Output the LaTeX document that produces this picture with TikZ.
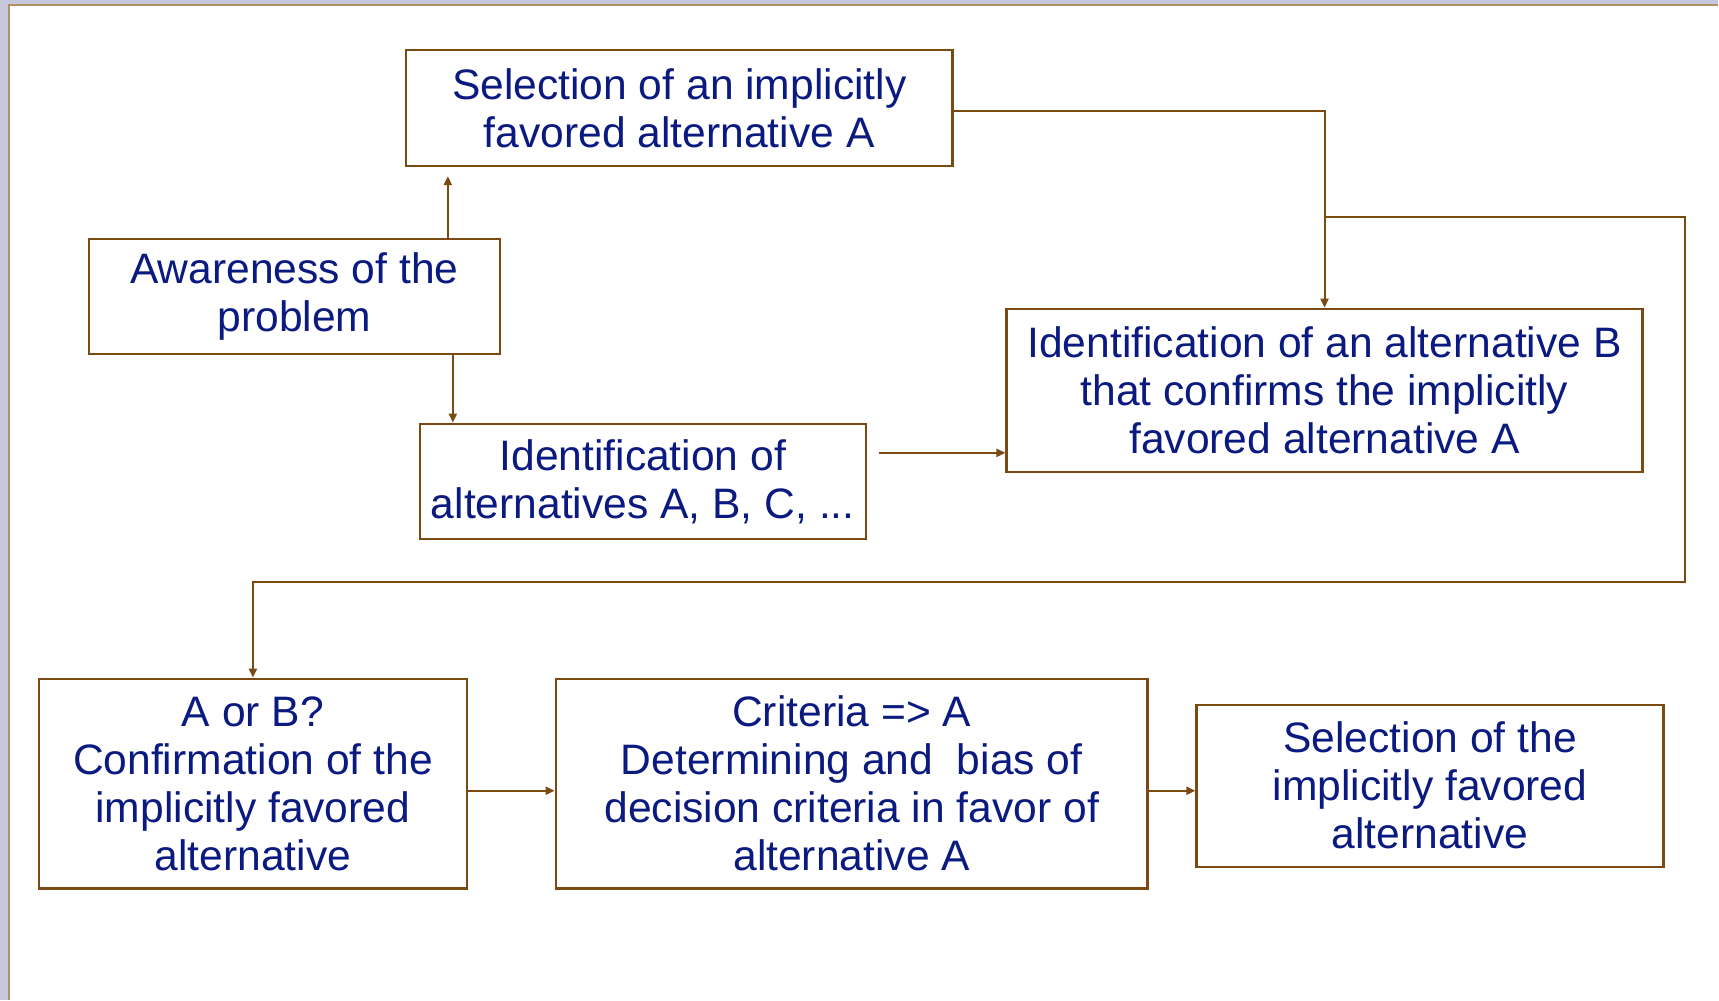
\documentclass[tikz,border=0pt]{standalone}
\usepackage{fontspec}
\setmainfont{Liberation Sans}
\usepackage{xcolor}
\usepackage{tikz}
\usetikzlibrary{arrows.meta}
\definecolor{slidenavy}{HTML}{0A1A80}
\definecolor{slidebrown}{HTML}{7B4A12}
\definecolor{slideedge}{HTML}{C5C8DA}
\definecolor{slidetan}{HTML}{B38F66}

\begin{document}
\begin{tikzpicture}[
  x=0.5pt, y=-0.5pt,
  stepbox/.style={
    rectangle,
    draw=slidebrown,
    line width=1.2pt,
    fill=white,
    align=center,
    inner sep=0pt,
    text=slidenavy,
    font=\fontsize{21.3}{24}\selectfont
  },
  arrow/.style={-{Triangle[length=4.5pt,width=4pt]}, line width=1pt, draw=slidebrown}
]

% slide background and frame
\fill[slideedge] (0,0) rectangle (1719,1000);
\fill[white] (9,5) rectangle (1719,1000);
\draw[slidetan, line width=0.6pt] (1719,5) -- (9,5) -- (9,1000);
\useasboundingbox (0,0) rectangle (1719,1000);

\node[stepbox, minimum width=273.5pt, minimum height=58pt] (select) at (679.5,108) {
  Selection of an implicitly\\
  favored alternative A
};

\node[stepbox, minimum width=205.5pt, minimum height=57.5pt] (aware) at (294.5,296.5) {
  Awareness of the\\
  problem
};

\node[stepbox, minimum width=223pt, minimum height=57.5pt] (alts) at (643,481.5) {
  Identification of\\
  alternatives A, B, C, ...
};

\node[stepbox, minimum width=318pt, minimum height=81.5pt] (confirm) at (1325,390.5) {
  Identification of an alternative B\\
  that confirms the implicitly\\
  favored alternative A
};

\node[stepbox, minimum width=214pt, minimum height=105pt] (aorb) at (253,784) {
  A or B?\\
  Confirmation of the\\
  implicitly favored\\
  alternative
};

\node[stepbox, minimum width=296pt, minimum height=105pt] (criteria) at (852,784) {
  Criteria => A\\
  Determining and\ \ bias of\\
  decision criteria in favor of\\
  alternative A
};

\node[stepbox, minimum width=233.5pt, minimum height=81pt] (final) at (1430.5,786) {
  Selection of the\\
  implicitly favored\\
  alternative
};

% helper points for the connectors
\coordinate (upx) at (448,0);
\coordinate (downx) at (453,0);
\coordinate (topy) at (0,111);
\coordinate (midy) at (0,453);
\coordinate (lowy) at (0,791);
\coordinate (loopa) at (1686,217);
\coordinate (loopb) at (1686,582);

\draw[arrow, shorten >=4.5pt] (aware.north -| upx) -- (select.south -| upx);
\draw[arrow] (aware.south -| downx) -- (alts.north -| downx);
\draw[arrow, shorten <=6pt] (alts.east |- midy) -- (confirm.west |- midy);
\draw[arrow] (select.east |- topy) -| (confirm.north);
\draw[arrow] (confirm.north |- loopa) -- (loopa) -- (loopb) -| (aorb.north);
\draw[arrow] (aorb.east |- lowy) -- (criteria.west |- lowy);
\draw[arrow] (criteria.east |- lowy) -- (final.west |- lowy);

\end{tikzpicture}
\end{document}
